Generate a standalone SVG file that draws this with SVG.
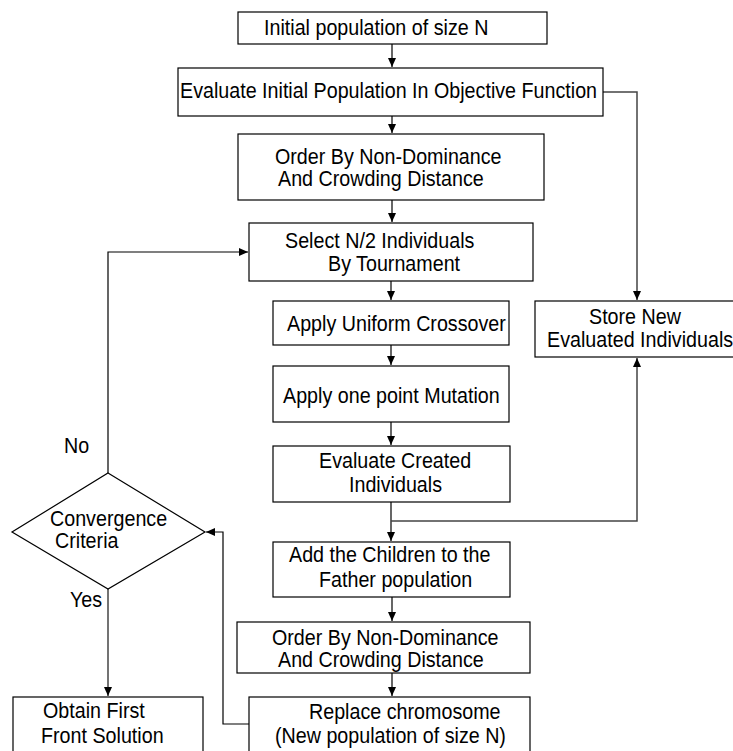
<svg xmlns="http://www.w3.org/2000/svg" width="733" height="751" viewBox="0 0 733 751">
  <style>
    .box { fill: #fff; stroke: #000; stroke-width: 1.2; }
    .lbl { font-family: "Liberation Sans", Arial, sans-serif; font-size: 19.7px; fill: #000; }
    .wire { fill: none; stroke: #000; stroke-width: 1.2; }
    .wire.grey { stroke: #444; stroke-width: 1.5; }
  </style>
  <defs>
    <marker id="arrow" markerUnits="userSpaceOnUse" markerWidth="10" markerHeight="10" refX="9" refY="4" orient="auto">
      <path d="M0,0 L9,4 L0,8 Z" fill="#000"/>
    </marker>
  </defs>
  <rect width="733" height="751" fill="#fff"/>

  <g id="connectors">
    <path class="wire" d="M392,44 V67" marker-end="url(#arrow)"/>
    <path class="wire" d="M392,116 V133" marker-end="url(#arrow)"/>
    <path class="wire" d="M392,200 V222" marker-end="url(#arrow)"/>
    <path class="wire" d="M391,281 V300" marker-end="url(#arrow)"/>
    <path class="wire" d="M391,345 V365" marker-end="url(#arrow)"/>
    <path class="wire" d="M391,422 V445" marker-end="url(#arrow)"/>
    <path class="wire" d="M391,502 V541" marker-end="url(#arrow)"/>
    <path class="wire" d="M392,597 V621" marker-end="url(#arrow)"/>
    <path class="wire" d="M392,673 V696" marker-end="url(#arrow)"/>
    <!-- evaluated individuals go to storage -->
    <path class="wire grey" d="M603,92 H637 V300" marker-end="url(#arrow)"/>
    <path class="wire grey" d="M391,521 H637 V358" marker-end="url(#arrow)"/>
    <!-- loop back after replacement -->
    <path class="wire" d="M249,724 H223 V532 H206" marker-end="url(#arrow)"/>
    <!-- No branch back to selection -->
    <path class="wire" d="M108,473 V252 H248" marker-end="url(#arrow)"/>
    <!-- Yes branch -->
    <path class="wire grey" d="M108,589 V696" marker-end="url(#arrow)"/>
  </g>

  <!-- labels are set with a slight vertical stretch: matrix(1 0 0 1.12 x baseline) -->
  <g id="init">
    <rect class="box" x="238" y="12" width="309" height="32"/>
    <text class="lbl" transform="matrix(1 0 0 1.12 264 35)">Initial population of size N</text>
  </g>
  <g id="evaluate-initial">
    <rect class="box" x="178" y="68" width="425" height="48"/>
    <text class="lbl" transform="matrix(1 0 0 1.12 180 98)">Evaluate Initial Population In Objective Function</text>
  </g>
  <g id="order-1">
    <rect class="box" x="238" y="134" width="306" height="66"/>
    <text class="lbl" transform="matrix(1 0 0 1.12 275 164)">Order By Non-Dominance</text>
    <text class="lbl" transform="matrix(1 0 0 1.12 278 186)">And Crowding Distance</text>
  </g>
  <g id="select">
    <rect class="box" x="249" y="223" width="284" height="58"/>
    <text class="lbl" transform="matrix(1 0 0 1.12 285 248)">Select N/2 Individuals</text>
    <text class="lbl" transform="matrix(1 0 0 1.12 328 271)">By Tournament</text>
  </g>
  <g id="crossover">
    <rect class="box" x="273" y="301" width="236" height="44"/>
    <text class="lbl" transform="matrix(1 0 0 1.12 287 331)">Apply Uniform Crossover</text>
  </g>
  <g id="mutation">
    <rect class="box" x="273" y="366" width="236" height="56"/>
    <text class="lbl" transform="matrix(1 0 0 1.12 283 403)">Apply one point Mutation</text>
  </g>
  <g id="evaluate-created">
    <rect class="box" x="273" y="446" width="237" height="56"/>
    <text class="lbl" transform="matrix(1 0 0 1.12 319 468)">Evaluate Created</text>
    <text class="lbl" transform="matrix(1 0 0 1.12 349 492)">Individuals</text>
  </g>
  <g id="store">
    <rect class="box" x="535" y="301" width="205" height="56"/>
    <text class="lbl" transform="matrix(1 0 0 1.12 589 324)">Store New</text>
    <text class="lbl" transform="matrix(1 0 0 1.12 547 347)">Evaluated Individuals</text>
  </g>
  <g id="add-children">
    <rect class="box" x="273" y="542" width="237" height="55"/>
    <text class="lbl" transform="matrix(1 0 0 1.12 289 562)">Add the Children to the</text>
    <text class="lbl" transform="matrix(1 0 0 1.12 319 587)">Father population</text>
  </g>
  <g id="order-2">
    <rect class="box" x="237" y="622" width="293" height="51"/>
    <text class="lbl" transform="matrix(1 0 0 1.12 272 645)">Order By Non-Dominance</text>
    <text class="lbl" transform="matrix(1 0 0 1.12 278 667)">And Crowding Distance</text>
  </g>
  <g id="replace">
    <rect class="box" x="249" y="697" width="281" height="70"/>
    <text class="lbl" transform="matrix(1 0 0 1.12 309 719)">Replace chromosome</text>
    <text class="lbl" transform="matrix(1 0 0 1.12 275 743)">(New population of size N)</text>
  </g>
  <g id="convergence">
    <polygon class="box" points="108,473 205,532 108,589 12,532"/>
    <text class="lbl" transform="matrix(1 0 0 1.12 50 526)">Convergence</text>
    <text class="lbl" transform="matrix(1 0 0 1.12 55 548)">Criteria</text>
    <text class="lbl" transform="matrix(1 0 0 1.12 64 453)">No</text>
    <text class="lbl" transform="matrix(1 0 0 1.12 70 607)">Yes</text>
  </g>
  <g id="obtain">
    <rect class="box" x="13" y="697" width="190" height="70"/>
    <text class="lbl" transform="matrix(1 0 0 1.12 43 718)">Obtain First</text>
    <text class="lbl" transform="matrix(1 0 0 1.12 41 743)">Front Solution</text>
  </g>
</svg>
